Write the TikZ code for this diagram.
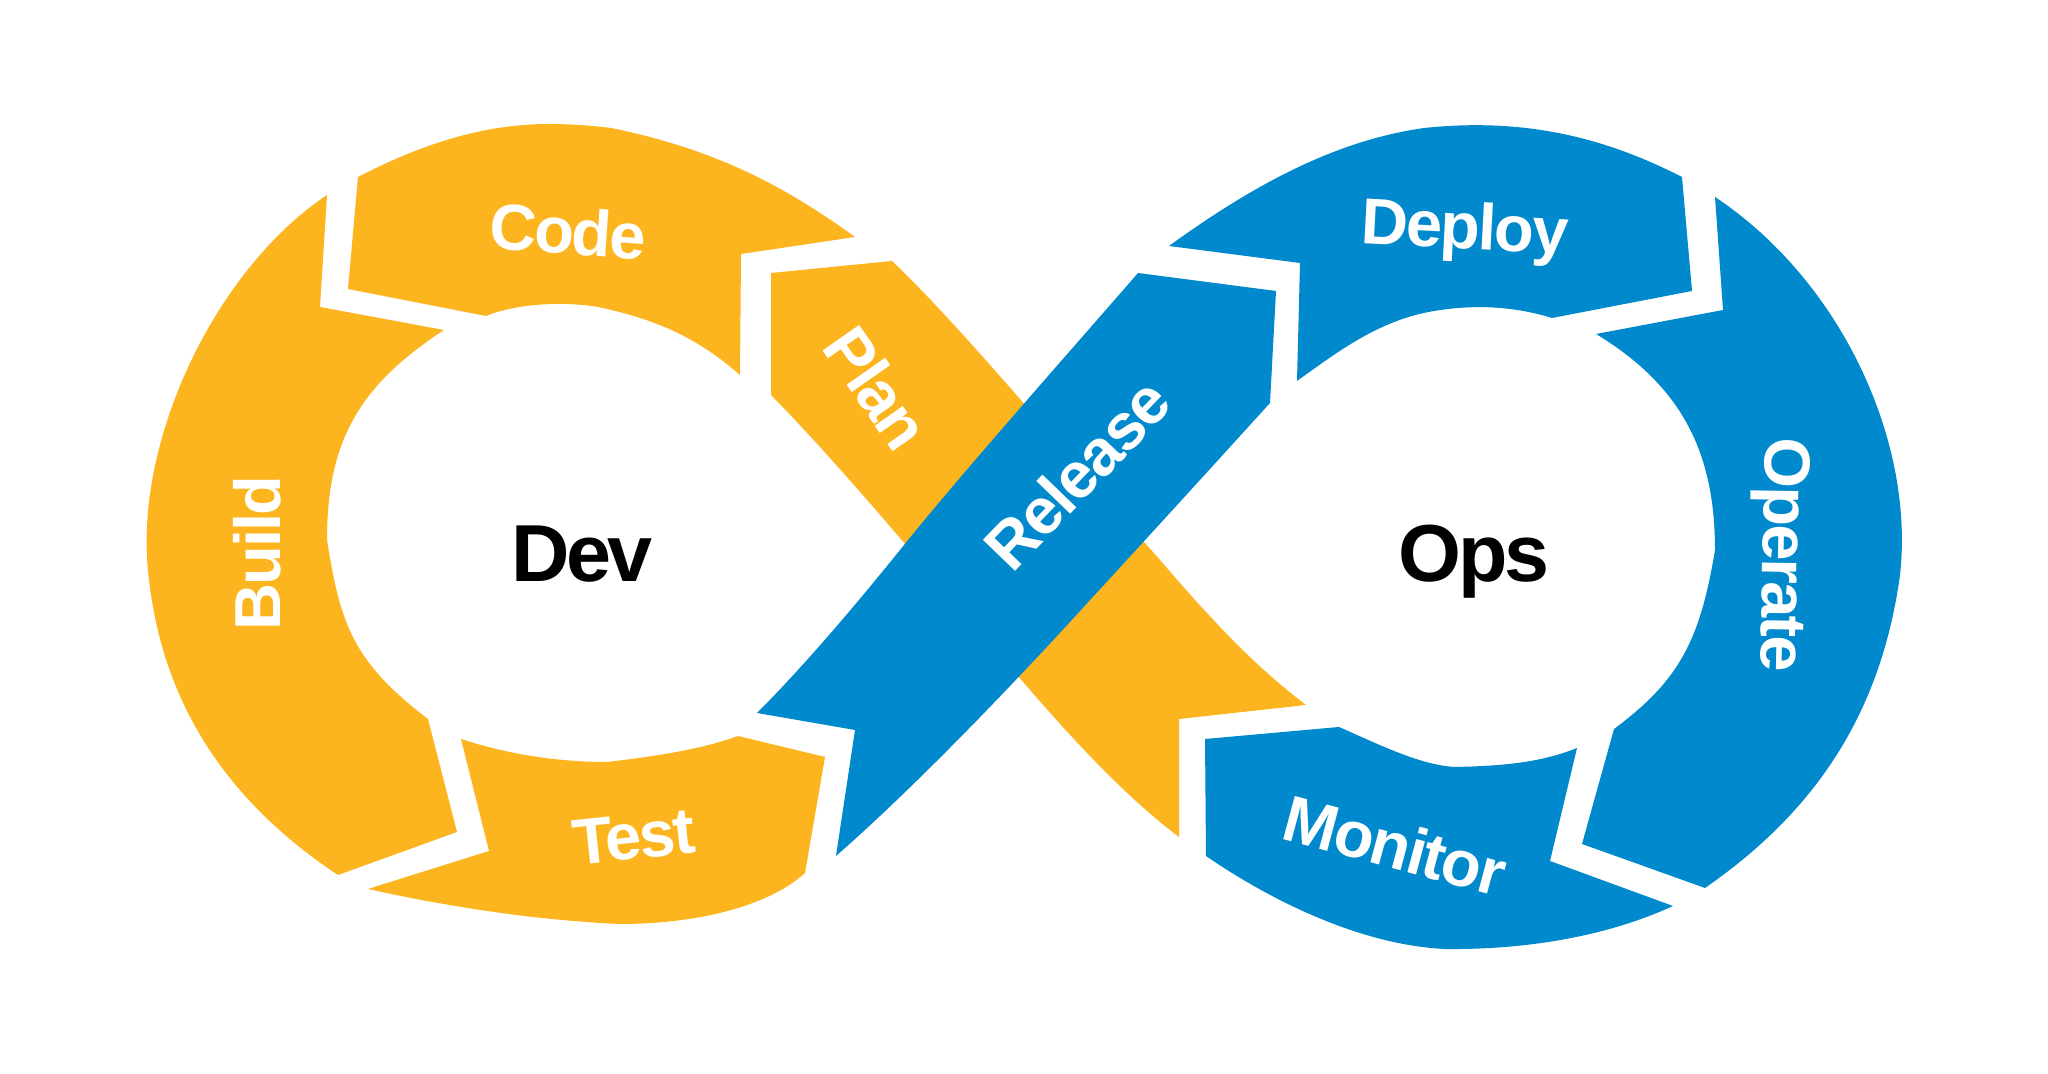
\documentclass[tikz,border=0pt]{standalone}
\usepackage{fontspec}
\setmainfont{Liberation Sans}
\definecolor{devyellow}{HTML}{FCB51E}
\definecolor{opsblue}{HTML}{0089CC}
\begin{document}
\begin{tikzpicture}[x=0.01cm,y=-0.01cm,
  lbl/.style={text=white,font=\fontsize{18.5}{20}\selectfont\bfseries\addfontfeatures{LetterSpace=-3},inner sep=0pt},
  big/.style={text=black,font=\fontsize{23}{26}\selectfont\bfseries\addfontfeatures{LetterSpace=-4},inner sep=0pt},
  yseg/.style={fill=devyellow,draw=none},
  bseg/.style={fill=opsblue,draw=none}]
\useasboundingbox[fill=white] (0,0) rectangle (2048,1074);

% ---------- Dev (yellow) loop ----------
% Code
\path[yseg] (358,177) .. controls (420,145) and (480,125) .. (545,124)
  .. controls (575,124) and (595,126) .. (611,128)
  .. controls (720,150) and (790,190) .. (855,237)
  -- (741,254) -- (740,375)
  .. controls (700,340) and (660,320) .. (598,307)
  .. controls (570,302) and (520,302) .. (486,316)
  -- (348,289) -- cycle;
% Build
\path[yseg] (327,195) -- (320,307) -- (444,330)
  .. controls (360,385) and (327,440) .. (327,540)
  .. controls (340,620) and (350,660) .. (428,719)
  -- (457,832) -- (338,875)
  .. controls (225,800) and (160,700) .. (148,570)
  .. controls (135,440) and (215,270) .. (327,195) -- cycle;
% Test
\path[yseg] (461,739) .. controls (510,755) and (560,762) .. (607,762)
  .. controls (650,757) and (700,750) .. (738,736)
  -- (825,757) -- (805,873)
  .. controls (770,905) and (700,924) .. (620,924)
  .. controls (530,920) and (440,905) .. (368,889)
  -- (489,851) -- cycle;
% Plan (long band crossing under Release)
\path[yseg] (771,273) -- (892,261)
  .. controls (960,325) and (1080,470) .. (1160,560)
  .. controls (1220,630) and (1260,670) .. (1306,705)
  -- (1179,719) -- (1179,837)
  .. controls (1130,800) and (1080,748) .. (1024,683)
  .. controls (960,610) and (850,475) .. (771,395) -- cycle;

% ---------- Ops (blue) loop ----------
% Release (over Plan)
\path[bseg] (757,713) -- (855,730) -- (836,856)
  .. controls (900,800) and (990,710) .. (1090,600)
  .. controls (1150,535) and (1220,458) .. (1270,403)
  -- (1276,291) -- (1138,273)
  .. controls (1080,340) and (960,475) .. (900,550)
  .. controls (850,612) and (800,670) .. (757,713) -- cycle;
% Deploy
\path[bseg] (1169,246) .. controls (1260,180) and (1340,140) .. (1424,128)
  .. controls (1520,118) and (1600,135) .. (1682,177)
  -- (1692,291) -- (1552,318)
  .. controls (1510,305) and (1470,305) .. (1434,311)
  .. controls (1380,320) and (1340,350) .. (1297,381)
  -- (1300,263) -- cycle;
% Operate
\path[bseg] (1715,197) -- (1723,310) -- (1596,334)
  .. controls (1680,385) and (1715,450) .. (1715,550)
  .. controls (1700,640) and (1680,680) .. (1614,729)
  -- (1582,844) -- (1705,888)
  .. controls (1810,815) and (1880,720) .. (1900,575)
  .. controls (1915,440) and (1840,280) .. (1715,197) -- cycle;
% Monitor
\path[bseg] (1205,739) -- (1339,727)
  .. controls (1380,745) and (1420,765) .. (1455,767)
  .. controls (1500,766) and (1540,763) .. (1577,748)
  -- (1550,861) -- (1673,906)
  .. controls (1610,935) and (1530,950) .. (1445,949)
  .. controls (1360,945) and (1270,900) .. (1206,856) -- cycle;

% ---------- labels ----------
\node[lbl,rotate=-4]  (code)    at (568,231) {Code};
\node[lbl,rotate=-55] (plan)    at (877,388) {Plan};
\node[lbl,rotate=90]  (build)   at (257,553) {Build};
\node[lbl,rotate=6]   (test)    at (634,837) {Test};
\node[lbl,rotate=46]  (release) at (1077,474) {Release};
\node[lbl,rotate=-3]  (deploy)  at (1465,232) {Deploy};
\node[lbl,rotate=-91] (operate) at (1779,555) {Operate};
\node[lbl,rotate=-15] (monitor) at (1395,845) {Monitor};
\node[big] (dev) at (582,554) {Dev};
\node[big] (ops) at (1474,562) {Ops};
\end{tikzpicture}
\end{document}
